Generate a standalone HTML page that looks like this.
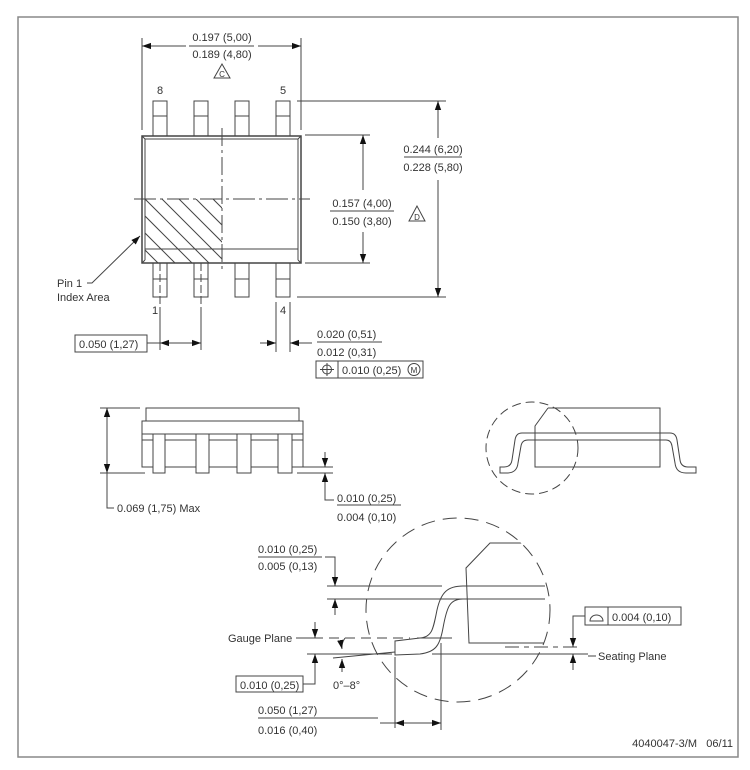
<!DOCTYPE html>
<html><head><meta charset="utf-8"><style>
html,body{margin:0;padding:0;background:#fff;}
svg{display:block;}
text{font-family:"Liberation Sans",sans-serif;font-size:11px;fill:#333;}
</style></head><body>
<svg width="750" height="770" viewBox="0 0 750 770" xmlns="http://www.w3.org/2000/svg">
<defs>
<marker id="a" viewBox="0 0 10 10" refX="10" refY="5" markerWidth="9" markerHeight="9" orient="auto-start-reverse" markerUnits="userSpaceOnUse"><path d="M0,1.5 L10,5 L0,8.5z" fill="#111"/></marker>
<clipPath id="hc"><rect x="145" y="199" width="77" height="64"/></clipPath>
<clipPath id="c1"><circle cx="458" cy="610" r="92"/></clipPath>
</defs>
<g fill="none" stroke="#444" stroke-width="1">
<rect x="18" y="17" width="720" height="740" stroke="#888" stroke-width="1.5"/>

<line x1="142" y1="38" x2="142" y2="130"/><line x1="301" y1="38" x2="301" y2="130"/>
<line x1="142" y1="46" x2="186" y2="46" marker-start="url(#a)"/>
<line x1="258" y1="46" x2="301" y2="46" marker-end="url(#a)"/>
<line x1="189" y1="46" x2="254" y2="46"/>
<path d="M222,64 L214,78 L230,78z"/>

<rect x="153" y="101" width="14" height="35"/><line x1="153" y1="116" x2="167" y2="116"/>
<rect x="194" y="101" width="14" height="35"/><line x1="194" y1="116" x2="208" y2="116"/>
<rect x="235" y="101" width="14" height="35"/><line x1="235" y1="116" x2="249" y2="116"/>
<rect x="276" y="101" width="14" height="35"/><line x1="276" y1="116" x2="290" y2="116"/>
<rect x="153" y="263" width="14" height="34"/><line x1="153" y1="279" x2="167" y2="279"/>
<rect x="194" y="263" width="14" height="34"/><line x1="194" y1="279" x2="208" y2="279"/>
<rect x="235" y="263" width="14" height="34"/><line x1="235" y1="279" x2="249" y2="279"/>
<rect x="276" y="263" width="14" height="34"/><line x1="276" y1="279" x2="290" y2="279"/>
<rect x="142" y="136" width="159" height="127" fill="#fff" stroke-width="1.5"/>
<line x1="145" y1="139" x2="145" y2="260"/><line x1="298" y1="139" x2="298" y2="260"/>
<line x1="145" y1="139" x2="298" y2="139"/><line x1="145" y1="249" x2="298" y2="249"/>
<line x1="142" y1="136" x2="145" y2="139"/><line x1="301" y1="136" x2="298" y2="139"/>
<line x1="142" y1="263" x2="145" y2="260"/><line x1="301" y1="263" x2="298" y2="260"/>
<g clip-path="url(#hc)">
<line x1="145" y1="199" x2="209" y2="263"/><line x1="162" y1="199" x2="226" y2="263"/>
<line x1="179" y1="199" x2="243" y2="263"/><line x1="196" y1="199" x2="260" y2="263"/>
<line x1="213" y1="199" x2="277" y2="263"/><line x1="128" y1="199" x2="192" y2="263"/>
<line x1="111" y1="199" x2="175" y2="263"/><line x1="94" y1="199" x2="158" y2="263"/>
</g>
<line x1="222" y1="128" x2="222" y2="272" stroke-dasharray="18,4,3,4"/>
<line x1="134" y1="199" x2="310" y2="199" stroke-dasharray="22,4,3,4"/>
<line x1="160" y1="263" x2="160" y2="350" stroke-dasharray="8,3"/>
<line x1="201" y1="263" x2="201" y2="350" stroke-dasharray="8,3"/>
<line x1="160" y1="312" x2="160" y2="350"/><line x1="201" y1="312" x2="201" y2="350"/>
<line x1="276" y1="302" x2="276" y2="352"/><line x1="290" y1="302" x2="290" y2="352"/>
<line x1="147" y1="343" x2="160" y2="343"/>
<line x1="160" y1="343" x2="201" y2="343" marker-start="url(#a)" marker-end="url(#a)"/>
<line x1="260" y1="343" x2="276" y2="343" marker-end="url(#a)"/>
<line x1="312" y1="343" x2="290" y2="343" marker-end="url(#a)"/>
<line x1="317" y1="342" x2="382" y2="342"/>
<rect x="75" y="335" width="72" height="17"/>
<rect x="316" y="361" width="107" height="17"/><line x1="338" y1="361" x2="338" y2="378"/>
<circle cx="327" cy="369.5" r="4.5"/><line x1="320" y1="369.5" x2="334" y2="369.5"/><line x1="327" y1="363" x2="327" y2="376"/>
<circle cx="414" cy="369.5" r="6"/>
<line x1="297" y1="101" x2="446" y2="101"/><line x1="297" y1="297" x2="446" y2="297"/>
<line x1="438" y1="101" x2="438" y2="138" marker-start="url(#a)"/>
<line x1="438" y1="180" x2="438" y2="297" marker-end="url(#a)"/>
<line x1="305" y1="135" x2="370" y2="135"/><line x1="305" y1="263" x2="370" y2="263"/>
<line x1="363" y1="135" x2="363" y2="190" marker-start="url(#a)"/>
<line x1="363" y1="232" x2="363" y2="263" marker-end="url(#a)"/>
<line x1="330" y1="211" x2="394" y2="211"/>
<line x1="404" y1="157" x2="462" y2="157"/>
<path d="M417,206 L409,221 L425,221z"/>
<polyline points="87,283 92,283 140,236" marker-end="url(#a)"/>

<rect x="146" y="408" width="153" height="13"/>
<rect x="142" y="421" width="161" height="46"/>
<line x1="142" y1="434" x2="303" y2="434"/><line x1="142" y1="440" x2="303" y2="440"/>
<rect x="153" y="434" width="12" height="39" fill="#fff"/>
<rect x="196" y="434" width="13" height="39" fill="#fff"/>
<rect x="237" y="434" width="14" height="39" fill="#fff"/>
<rect x="278" y="434" width="14" height="39" fill="#fff"/>
<line x1="100" y1="408" x2="140" y2="408"/><line x1="100" y1="473" x2="145" y2="473"/>
<line x1="107" y1="408" x2="107" y2="473" marker-start="url(#a)" marker-end="url(#a)"/>
<polyline points="107,473 107,508 114,508"/>
<line x1="297" y1="467" x2="333" y2="467"/><line x1="297" y1="473" x2="333" y2="473"/>
<line x1="325" y1="452" x2="325" y2="467" marker-end="url(#a)"/>
<line x1="325" y1="490" x2="325" y2="473" marker-end="url(#a)"/>
<polyline points="325,490 325,500 334,500"/>
<line x1="337" y1="505" x2="401" y2="505"/>

<circle cx="532" cy="448" r="46" stroke-dasharray="9,5"/>
<polyline points="548,408 660,408 660,467 535,467 535,426 548,408"/>
<line x1="535" y1="433" x2="660" y2="433"/><line x1="535" y1="440" x2="660" y2="440"/>
<path d="M535,433 L522,433 Q516,433 515,440 L512,460 Q511,467 504,467 L500,467 L500,473 L507,473 Q517,473 518,463 L521,446 Q522,440 528,440 L535,440"/>
<path d="M660,433 L670,433 Q676,433 677,440 L680,460 Q681,467 688,467 L696,467 L696,473 L686,473 Q676,473 675,463 L672,446 Q671,440 666,440 L660,440"/>

<circle cx="458" cy="610" r="92" stroke-dasharray="14,8"/>
<g clip-path="url(#c1)">
<polyline points="530,543 490,543 466,568 469,643 560,643"/>
</g>
<line x1="327" y1="586" x2="442" y2="586"/><line x1="463" y1="586" x2="545" y2="586"/>
<line x1="327" y1="599" x2="545" y2="599"/>
<path d="M463,586 C448,586 441,592 437,610 C433,630 432,637 420,638 L395,641 L395,655 L420,654 C436,652 440,645 443,628 C447,606 450,599 463,599"/>
<line x1="296" y1="638" x2="313" y2="638"/>
<line x1="313" y1="638" x2="410" y2="638" stroke-dasharray="10,6"/>
<line x1="417" y1="638" x2="452" y2="638"/>
<line x1="307" y1="654" x2="392" y2="654"/><line x1="432" y1="654" x2="588" y2="654"/>
<line x1="333" y1="658" x2="395" y2="652"/>
<line x1="505" y1="647" x2="582" y2="647" stroke-dasharray="14,5,5,5"/>
<line x1="395" y1="657" x2="395" y2="728"/><line x1="441" y1="643" x2="441" y2="730"/>
<line x1="380" y1="723" x2="395" y2="723"/>
<line x1="395" y1="723" x2="441" y2="723" marker-start="url(#a)" marker-end="url(#a)"/>
<polyline points="325,557 335,557 335,586" marker-end="url(#a)"/>
<line x1="335" y1="615" x2="335" y2="599" marker-end="url(#a)"/>
<line x1="258" y1="557" x2="322" y2="557"/>
<line x1="315" y1="622" x2="315" y2="638" marker-end="url(#a)"/>
<polyline points="303,684 315,684 315,654" marker-end="url(#a)"/>
<rect x="236" y="676" width="67" height="16"/>
<path d="M345,638 Q341,644 342,649" marker-end="url(#a)"/>
<line x1="342" y1="672" x2="342" y2="659" marker-end="url(#a)"/>
<line x1="258" y1="718" x2="378" y2="718"/>
<rect x="585" y="607" width="96" height="18"/><line x1="608" y1="607" x2="608" y2="625"/>
<path d="M590,621 A6.5,6 0 0 1 603,621 Z"/>
<polyline points="585,616 573,616 573,647" marker-end="url(#a)"/>
<line x1="573" y1="670" x2="573" y2="654" marker-end="url(#a)"/>
<line x1="588" y1="656" x2="596" y2="656"/>
</g>

<g>
<text x="222" y="41" text-anchor="middle">0.197 (5,00)</text>
<text x="222" y="58" text-anchor="middle">0.189 (4,80)</text>
<text x="222" y="77" text-anchor="middle" style="font-size:8px">C</text>
<text x="160" y="94" text-anchor="middle">8</text>
<text x="283" y="94" text-anchor="middle">5</text>
<text x="152" y="314">1</text>
<text x="280" y="314">4</text>
<text x="433" y="153" text-anchor="middle">0.244 (6,20)</text>
<text x="433" y="171" text-anchor="middle">0.228 (5,80)</text>
<text x="362" y="207" text-anchor="middle">0.157 (4,00)</text>
<text x="362" y="225" text-anchor="middle">0.150 (3,80)</text>
<text x="417" y="220" text-anchor="middle" style="font-size:8px">D</text>
<text x="57" y="287">Pin 1</text>
<text x="57" y="301">Index Area</text>
<text x="79" y="348">0.050 (1,27)</text>
<text x="317" y="338">0.020 (0,51)</text>
<text x="317" y="356">0.012 (0,31)</text>
<text x="342" y="374">0.010 (0,25)</text>
<text x="414" y="373" text-anchor="middle" style="font-size:8px">M</text>
<text x="117" y="512">0.069 (1,75) Max</text>
<text x="337" y="502">0.010 (0,25)</text>
<text x="337" y="521">0.004 (0,10)</text>
<text x="258" y="553">0.010 (0,25)</text>
<text x="258" y="570">0.005 (0,13)</text>
<text x="228" y="642">Gauge Plane</text>
<text x="598" y="660">Seating Plane</text>
<text x="240" y="689">0.010 (0,25)</text>
<text x="333" y="689">0°–8°</text>
<text x="258" y="714">0.050 (1,27)</text>
<text x="258" y="734">0.016 (0,40)</text>
<text x="612" y="621">0.004 (0,10)</text>
<text x="697" y="747" text-anchor="end">4040047-3/M</text>
<text x="733" y="747" text-anchor="end">06/11</text>
</g>
</svg>
</body></html>
